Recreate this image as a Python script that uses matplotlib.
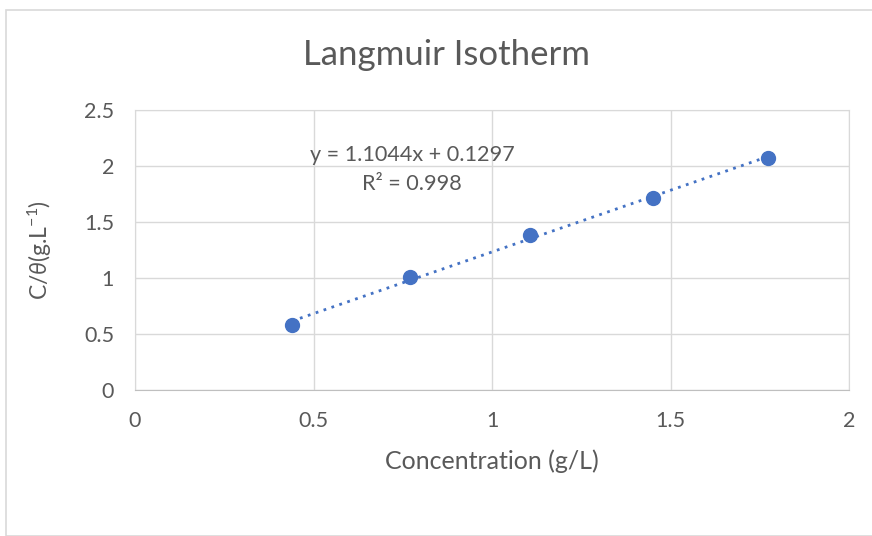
import matplotlib
matplotlib.use("Agg")
import matplotlib.pyplot as plt
import numpy as np
from matplotlib.patches import Rectangle

concentration = [0.44, 0.77, 1.106, 1.451, 1.773]
c_over_theta = [0.58, 1.009, 1.384, 1.714, 2.071]
x_ticks = [0, 0.5, 1, 1.5, 2]
y_ticks = [0, 0.5, 1, 1.5, 2, 2.5]
x_tick_labels = ["0", "0.5", "1", "1.5", "2"]
y_tick_labels = ["0", "0.5", "1", "1.5", "2", "2.5"]

plt.rcParams['font.family'] = ['Lato', 'DejaVu Sans']
plt.rcParams['mathtext.fontset'] = 'custom'
plt.rcParams['mathtext.rm'] = 'Lato'
plt.rcParams['mathtext.it'] = 'Lato:italic'
txt = '#595959'
grid = '#d9d9d9'
blue = '#4472C4'

fig = plt.figure(figsize=(8.72, 5.36), dpi=100)
fig.patches.append(Rectangle((6/872, 0), 1, 1 - 10/536, transform=fig.transFigure,
                             fill=False, edgecolor=grid, linewidth=1.2))
ax = fig.add_axes([135/872, 1 - 390/536, (849 - 135)/872, (390 - 110)/536])

x = np.array(concentration)
y = np.array(c_over_theta)
m, b = np.polyfit(x, y, 1)
xf = np.array([x.min(), x.max()])
ax.plot(xf, m * xf + b, linestyle=(0, (1, 2)), color=blue, linewidth=2, zorder=2)
ax.plot(x, y, 'o', color=blue, markersize=10, zorder=3)

ax.set_xlim(0, 2)
ax.set_ylim(0, 2.5)
ax.set_xticks(x_ticks)
ax.set_xticklabels(x_tick_labels)
ax.set_yticks(y_ticks)
ax.set_yticklabels(y_tick_labels)
ax.grid(True, color=grid, linewidth=1)
ax.set_axisbelow(True)
for s in ax.spines.values():
    s.set_color(grid)
ax.spines['bottom'].set_color('#bfbfbf')
ax.tick_params(length=0, labelsize=15.5, labelcolor=txt)
ax.tick_params(axis='x', pad=15)
ax.tick_params(axis='y', pad=15)

fig.text(446/872, 1 - 55/536, 'Langmuir Isotherm', fontsize=25, color=txt, ha='center', va='center')
fig.text(492/872, 1 - 461/536, 'Concentration (g/L)', fontsize=18, color=txt, ha='center', va='center')
fig.text(40/872, 1 - 250/536, r'C/$\mathit{\theta}$(g.L$^{-1}$)', fontsize=16.5, color=txt,
         ha='center', va='center', rotation=90)

ax.text(0.776, 2.10, 'y = 1.1044x + 0.1297', fontsize=15.6, color=txt, ha='center', va='center')
ax.text(0.776, 1.84, 'R² = 0.998', fontsize=15.6, color=txt, ha='center', va='center')

fig.savefig('out.png', dpi=100)
